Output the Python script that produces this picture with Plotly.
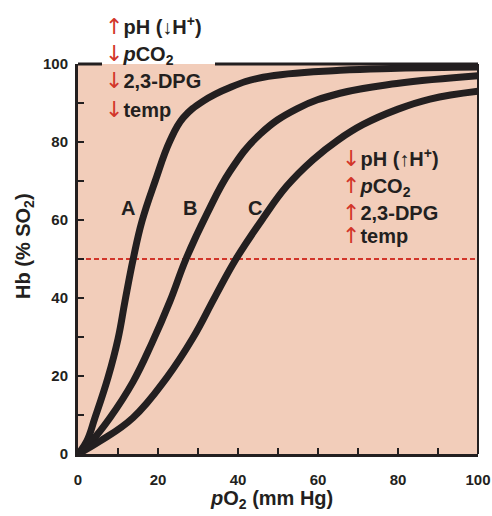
import plotly.graph_objects as go

# Curve data (pO2 in mm Hg, Hb % saturation)
a_x = [0, 2.2, 4.25, 7.5, 10, 11.75, 13.8, 16, 19.3, 23, 26.3, 31.3, 38, 46.3, 65.5, 80, 100]
a_y = [0, 3.3, 9.3, 19.6, 29.5, 39.2, 50, 59.7, 70, 80.3, 86.2, 90.5, 94.0, 96.6, 98.4, 98.9, 99.2]
b_x = [0, 3.4, 8, 13.75, 18.5, 23, 27, 32.2, 38, 45.5, 54.7, 65.5, 79.7, 100]
b_y = [0, 3.3, 9.3, 18.5, 28.5, 39.2, 50, 61.5, 72.5, 82, 88.5, 92.5, 95, 97]
c_x = [0, 5.5, 13.75, 22.2, 28.75, 34.25, 39.5, 46.3, 52.2, 58.8, 65, 71.3, 79.7, 88, 100]
c_y = [0, 3.3, 9.3, 19.6, 29.8, 40.3, 50, 60.5, 68.7, 75.5, 80.5, 84.5, 88.3, 91, 93]

curve_labels = ["A", "B", "C"]
label_x = [12.5, 28, 44.3]
label_y = [63, 63, 63]

left_notes = ["↑|pH (↓H<sup>+</sup>)", "↓|<i>p</i>CO<sub>2</sub>", "↓|2,3-DPG", "↓|temp"]
right_notes = ["↓|pH (↑H<sup>+</sup>)", "↑|<i>p</i>CO<sub>2</sub>", "↑|2,3-DPG", "↑|temp"]

x_ticks = [0, 20, 40, 60, 80, 100]
y_ticks = [0, 20, 40, 60, 80, 100]

FONT = "Liberation Sans, Arial, Helvetica, sans-serif"
INK = "#231f20"
RED = "#d2352a"
BG = "#f2cdba"

L, R, T, B = 78, 14, 64, 62
W, H = 492, 516
PW, PH = W - L - R, H - T - B


def px2x(px):
    return (px - L) / PW


def py2y(py):
    return (T + PH - py) / PH


fig = go.Figure()
for xs, ys in [(a_x, a_y), (b_x, b_y), (c_x, c_y)]:
    fig.add_trace(go.Scatter(x=xs, y=ys, mode="lines",
                             line=dict(color=INK, width=7, shape="spline", smoothing=1.2),
                             hoverinfo="skip", showlegend=False))

shapes = [
    dict(type="line", xref="x", yref="y", x0=0, x1=100, y0=50, y1=50, layer="below",
         line=dict(color=RED, width=2, dash="5px,3px")),
    dict(type="line", xref="paper", yref="paper", x0=0, x1=px2x(102), y0=1, y1=1,
         line=dict(color=INK, width=3)),
    dict(type="line", xref="paper", yref="paper", x0=px2x(215), x1=1, y0=1, y1=1,
         line=dict(color=INK, width=3)),
    dict(type="line", xref="paper", yref="paper", x0=1, x1=1, y0=0, y1=1,
         line=dict(color=INK, width=2)),
]

annotations = []
for t, x, y in zip(curve_labels, label_x, label_y):
    annotations.append(dict(x=x, y=y, xref="x", yref="y", text="<b>" + t + "</b>",
                            showarrow=False, font=dict(family=FONT, size=20, color=INK)))


def note(s, px, py):
    arrow, body = s.split("|")
    return dict(x=px2x(px), y=py2y(py), xref="paper", yref="paper", xanchor="left",
                yanchor="middle",
                text='<span style="color:%s;font-family:DejaVu Sans;font-size:22px">%s</span><b>%s</b>'
                     % (RED, arrow, body),
                showarrow=False, font=dict(family=FONT, size=20, color=INK))


for s, py in zip(left_notes, [26, 54, 81, 109]):
    annotations.append(note(s, 103, py))
for s, py in zip(right_notes, [158, 186, 212, 235]):
    annotations.append(note(s, 340, py))

annotations.append(dict(x=px2x(271), y=py2y(499), xref="paper", yref="paper", showarrow=False,
                        xanchor="center", yanchor="middle",
                        text="<b><i>p</i>O<sub>2</sub> (mm Hg)</b>",
                        font=dict(family=FONT, size=20, color=INK)))
annotations.append(dict(x=px2x(24), y=py2y(246), xref="paper", yref="paper", showarrow=False,
                        xanchor="center", yanchor="middle",
                        textangle=-90, text="<b>Hb (% SO<sub>2</sub>)</b>",
                        font=dict(family=FONT, size=20, color=INK)))

fig.update_layout(
    width=W, height=H, margin=dict(l=L, r=R, t=T, b=B, autoexpand=False),
    paper_bgcolor="white", plot_bgcolor=BG,
    shapes=shapes, annotations=annotations, showlegend=False,
    font=dict(family=FONT, color=INK),
)
fig.update_xaxes(range=[0, 100], tickvals=x_ticks, ticktext=["<b>%d</b>" % v for v in x_ticks],
                 ticks="inside", ticklen=6, tickwidth=2, tickcolor=INK, automargin=False,
                 minor=dict(dtick=10, ticks="inside", ticklen=6, tickwidth=2, tickcolor=INK),
                 showline=True, linecolor=INK, linewidth=3, showgrid=False, zeroline=False,
                 tickfont=dict(family=FONT, size=15, color=INK), ticklabelstandoff=10)
fig.update_yaxes(range=[0, 100], tickvals=y_ticks, ticktext=["<b>%d</b>" % v for v in y_ticks],
                 ticks="inside", ticklen=6, tickwidth=2, tickcolor=INK, automargin=False,
                 minor=dict(dtick=10, ticks="inside", ticklen=6, tickwidth=2, tickcolor=INK),
                 showline=True, linecolor=INK, linewidth=3, showgrid=False, zeroline=False,
                 tickfont=dict(family=FONT, size=15, color=INK), ticklabelstandoff=4)

fig.write_html("out.html", post_script="document.body.style.margin='0';",
               config={"displayModeBar": False})
